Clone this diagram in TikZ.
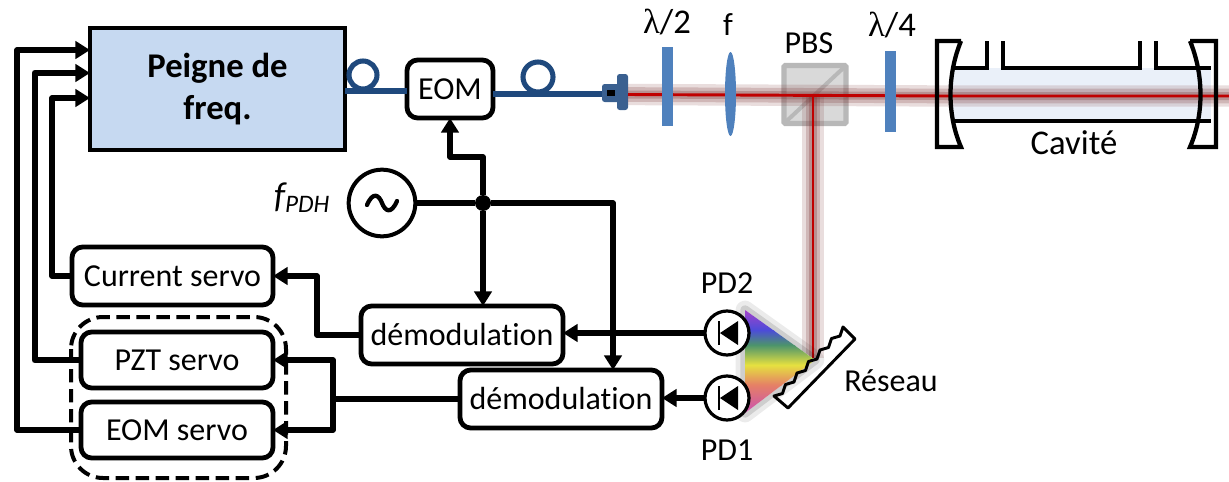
\documentclass[tikz,border=0pt]{standalone}
\usepackage{fontspec}
\setmainfont[Ligatures=NoCommon]{Carlito}
\newfontfamily\greekfont{Liberation Serif}
\usetikzlibrary{arrows.meta,calc}
\definecolor{combfill}{HTML}{C6D9F1}
\definecolor{fibre}{HTML}{1F497D}
\definecolor{collim}{HTML}{3A6090}
\definecolor{plate}{HTML}{4F81BD}
\definecolor{beamred}{HTML}{C00000}
\definecolor{beamglow}{HTML}{7A3030}
\definecolor{cavfill}{HTML}{EAF0F9}
\tikzset{
  lab/.style={font=\fontsize{24}{28}\selectfont,inner sep=0pt,outer sep=0pt,text=black},
  boxnode/.style={lab,draw=black,line width=3.6pt,rounded corners=8pt,fill=white,align=center},
  wire/.style={draw=black,line width=4.2pt,line join=round},
  sig/.style={wire,-{Triangle[length=11pt,width=13pt]}},
  fibreline/.style={draw=fibre,line width=3.8pt},
  beamline/.style={draw=beamred,line width=2.2pt},
  platebar/.style={fill=plate,draw=none},
  cavline/.style={draw=black,line width=3.2pt,line join=miter},
  pdnode/.style={circle,draw=black,line width=2.4pt,fill=white,minimum size=33pt,inner sep=0pt,outer sep=0pt},
}
\newcommand{\glowline}[1]{%
  \draw[beamglow,opacity=.16,line width=16pt] #1;
  \draw[beamglow,opacity=.22,line width=11pt] #1;
  \draw[beamglow,opacity=.28,line width=6pt] #1;
}
\begin{document}
\begin{tikzpicture}[x=0.75pt,y=-0.75pt]
\useasboundingbox (0,0) rectangle (1229,482);
\fill[white] (0,0) rectangle (1229,482);

% ---- blocks
\node[draw=black,line width=2.4pt,fill=combfill,minimum width=255*0.75pt,minimum height=122*0.75pt,inner sep=0pt,outer sep=0pt,align=center,font=\fontsize{26}{31}\selectfont\bfseries] (comb) at (217.5,89) {Peigne de\\freq.};
\node[boxnode,minimum width=86*0.75pt,minimum height=58*0.75pt] (eom) at (450,89) {EOM};
\node[boxnode,minimum width=201*0.75pt,minimum height=58*0.75pt] (cur) at (172.5,276) {Current servo};
\node[boxnode,minimum width=192*0.75pt,minimum height=56*0.75pt] (pzt) at (177,360) {PZT servo};
\node[boxnode,minimum width=192*0.75pt,minimum height=56*0.75pt] (eoms) at (177,430) {EOM servo};
\node[boxnode,minimum width=202*0.75pt,minimum height=58*0.75pt] (demA) at (462,335) {démodulation};
\node[boxnode,minimum width=202*0.75pt,minimum height=58*0.75pt] (demB) at (561,399) {démodulation};
\node[circle,draw=black,line width=3pt,fill=white,minimum size=50pt,inner sep=0pt,outer sep=0pt] (osc) at (382,203) {};
\draw[line width=3.2pt,line cap=round] ($(osc.center)+(-15,2)$) .. controls ($(osc.center)+(-9,-12)$) and ($(osc.center)+(-3,-8)$) .. ($(osc.center)+(0,0)$) .. controls ($(osc.center)+(3,8)$) and ($(osc.center)+(9,12)$) .. ($(osc.center)+(15,-2)$);
\node[circle,fill=black,minimum size=12pt,inner sep=0pt,outer sep=0pt] (junc) at (483,203) {};
\draw[black,line width=3pt,dash pattern=on 10pt off 5pt,rounded corners=24pt] (71,317) rectangle (286,478);

% ---- inputs of the comb
\coordinate (in1) at (90,50);
\coordinate (in2) at (90,73);
\coordinate (in3) at (90,98);
\coordinate (bTop) at (613,370);
\draw[sig] (eoms.west) -- ++(-64,0) |- (in1);
\draw[sig,line width=5pt] (pzt.west) -- ++(-46,0) |- (in2);
\draw[sig] (cur.west) -- ++(-20,0) |- (in3);

% ---- electronics
\draw[wire] (osc.east) -- (junc);
\draw[sig] (junc) -- ++(0,-46) -| (eom.south);
\draw[sig] (junc) -- (junc |- demA.north);
\draw[sig] (junc) -| (bTop);
\draw[sig] (demA.west) -- ++(-44,0) |- (cur.east);
\coordinate (split) at (333,399);
\draw[wire] (demB.west) -- (split);
\draw[sig] (split) |- (pzt.east);
\draw[sig] (split) |- (eoms.east);

% ---- fibre
\draw[fibreline] (comb.east |- 0,91) -- (eom.west |- 0,91);
\draw[fibreline] (363,75) circle[radius=14];
\coordinate (collimIn) at (604,94);
\draw[fibreline] (eom.east |- collimIn) -- (collimIn);
\draw[fibreline] (538,77) circle[radius=15];
\node[fill=collim,rounded corners=2pt,minimum width=18*0.75pt,minimum height=18*0.75pt,inner sep=0pt,outer sep=0pt] (coll) at (611,93) {};
\node[fill=collim,rounded corners=2pt,minimum width=11*0.75pt,minimum height=36*0.75pt,inner sep=0pt,outer sep=0pt] (flange) at (622.5,92) {};
\fill[black] (607,90) rectangle (615,96);

% ---- cavity body
\fill[cavfill] (952,68) rectangle (1211,121);
% ---- PBS
\node[draw=black!28,fill=black!15,line width=4pt,rounded corners=1pt,minimum width=62*0.75pt,minimum height=58*0.75pt,inner sep=0pt,outer sep=0pt] (pbs) at (815,94.5) {};
\draw[black!28,line width=3pt] (pbs.south west) -- (pbs.north east);

% ---- beams
\coordinate (hit) at (813,94.5);
\coordinate (gr) at (813,358);
\coordinate (cavIn) at (945,96);
\coordinate (cavOut) at (1229,96);
\glowline{(flange.east |- hit) -- (cavIn) -- (cavOut)}
\glowline{(hit) -- (gr)}
\draw[beamline] (flange.east |- hit) -- (cavIn) -- (cavOut);
\draw[beamline] (hit) -- (gr);

% ---- plates and lens
\fill[platebar] (662,47) rectangle (673,126);
\fill[plate] (730.5,94) ellipse[x radius=5.5,y radius=42];
\fill[platebar] (885,51) rectangle (896,132);

% ---- cavity
\draw[cavline,line width=3pt] (954,68) -- (987,68) -- (987,41);
\draw[cavline,line width=3pt] (1003,41) -- (1003,68) -- (1140,68) -- (1140,41);
\draw[cavline,line width=3pt] (1156,41) -- (1156,68) -- (1211,68);
\draw[cavline,line width=3pt] (954,121) -- (1211,121);
\draw[cavline] (961,41) -- (937,41) -- (937,147) -- (961,147) .. controls (947,115) and (947,75) .. (961,41);
\draw[cavline] (1190,41) -- (1216,41) -- (1216,147) -- (1190,147) .. controls (1204,115) and (1204,75) .. (1190,41);

% ---- spectrum
\fill[black,opacity=.08,line width=14pt,line join=round,draw=black,draw opacity=.08] (745,310) -- (815,360) -- (745,413) -- cycle;
\fill[black,opacity=.12,line width=7pt,line join=round,draw=black,draw opacity=.12] (745,310) -- (815,360) -- (745,413) -- cycle;
\begin{scope}
\clip (745,310) -- (815,360) -- (745,413) -- cycle;
\fill[white] (740,305) rectangle (820,420);
\foreach \ya/\ca/\yb/\cb in {
  305/{rgb,1:red,.72;green,.25;blue,.78}/330/{rgb,1:red,.30;green,.30;blue,.85},
  330/{rgb,1:red,.30;green,.30;blue,.85}/345/{rgb,1:red,.30;green,.58;blue,.42},
  345/{rgb,1:red,.30;green,.58;blue,.42}/365/{rgb,1:red,.90;green,.88;blue,.25},
  365/{rgb,1:red,.90;green,.88;blue,.25}/385/{rgb,1:red,.90;green,.50;blue,.40},
  385/{rgb,1:red,.90;green,.50;blue,.40}/415/{rgb,1:red,.78;green,.30;blue,.72}}{
  \shade[top color={\ca},bottom color={\cb}] (740,\ya) rectangle (820,\yb);
}
\end{scope}

% ---- grating
\draw[black,line width=2.2pt,line join=round] (774,396) -- (788,408) -- (855,339) -- (843,327)
  \foreach \i in {0,...,5} { -- ++(-3,9) -- ++(-8.5,2.5) } -- cycle;

% ---- photodiodes
\node[pdnode] (pdB) at (727,333) {};
\node[pdnode] (pdA) at (727,398) {};
\foreach \p in {pdA,pdB}{
  \draw[black,line width=2pt] ($(\p.center)+(-8,-12)$) -- ($(\p.center)+(-8,12)$);
  \fill[black] ($(\p.center)+(-7,0)$) -- ($(\p.center)+(11,-12)$) -- ($(\p.center)+(11,12)$) -- cycle;
}
\draw[sig] (pdB.west) -- (pdB.west -| demA.east);
\draw[sig] (pdA.west) -- (pdA.west -| demB.east);

% ---- labels
\node[lab,font=\fontsize{26}{30}\selectfont] (lbHalf) at (667,22) {{\greekfont λ}/2};
\node[lab] (lbF) at (728,25) {f};
\node[lab] (lbPBS) at (809,43) {PBS};
\node[lab,font=\fontsize{26}{30}\selectfont] (lbQuart) at (892,25) {{\greekfont λ}/4};
\node[lab,font=\fontsize{26}{30}\selectfont] (lbCav) at (1074,143) {Cavité};
\node[lab] (lbPD2) at (727,283) {PD2};
\node[lab] (lbPD1) at (727,450) {PD1};
\node[lab] (lbRes) at (891,381) {Réseau};
\node[lab,font=\fontsize{27}{30}\selectfont] (lbF2) at (302,198) {\textit{f\textsubscript{PDH}}};
\end{tikzpicture}
\end{document}
